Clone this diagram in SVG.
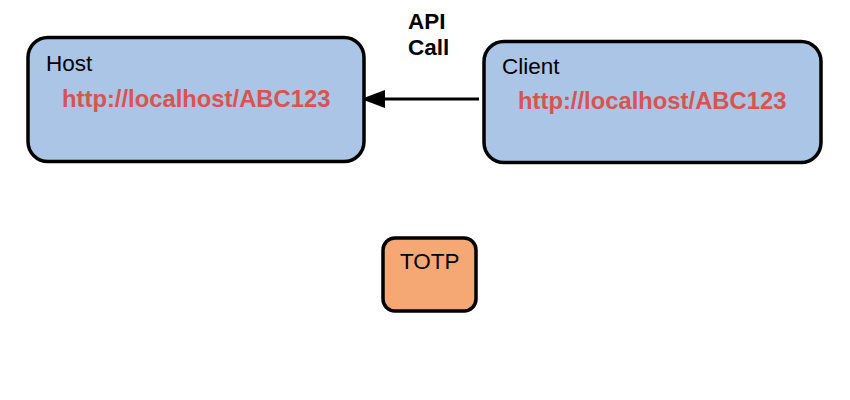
<svg xmlns="http://www.w3.org/2000/svg" width="850" height="400" viewBox="0 0 850 400">
<defs>
<style>
.box{stroke:#000;stroke-width:3.5}
.blue{fill:#abc5e6}
.orange{fill:#f5a874}
.lbl{font-family:"Liberation Sans",Arial,sans-serif;font-size:22.5px;fill:#000}
.url{font-family:"Liberation Sans",Arial,sans-serif;font-size:23.8px;font-weight:bold;fill:#d9534f}
.bold{font-family:"Liberation Sans",Arial,sans-serif;font-size:22.5px;font-weight:bold;fill:#000}
</style>
<marker id="ah" markerWidth="24" markerHeight="20" refX="23" refY="10" orient="auto" markerUnits="userSpaceOnUse">
<path d="M0,1 L24,10 L0,19 Z" fill="#000"/>
</marker>
</defs>
<rect width="850" height="400" fill="#fff"/>
<g id="connectors">
<line x1="479" y1="99" x2="362" y2="99" stroke="#000" stroke-width="3" marker-end="url(#ah)"/>
<text class="bold" x="408" y="29">API</text>
<text class="bold" x="408" y="55">Call</text>
</g>
<g id="host">
<rect class="box blue" x="28" y="37.5" width="336" height="124" rx="20"/>
<text class="lbl" x="46" y="71">Host</text>
<text class="url" x="62" y="107">http://localhost/ABC123</text>
</g>
<g id="client">
<rect class="box blue" x="484" y="41.5" width="337" height="121" rx="20"/>
<text class="lbl" x="502" y="74">Client</text>
<text class="url" x="518" y="109">http://localhost/ABC123</text>
</g>
<g id="totp">
<rect class="box orange" x="383" y="238" width="93" height="73" rx="12"/>
<text class="lbl" x="400" y="269">TOTP</text>
</g>
</svg>
